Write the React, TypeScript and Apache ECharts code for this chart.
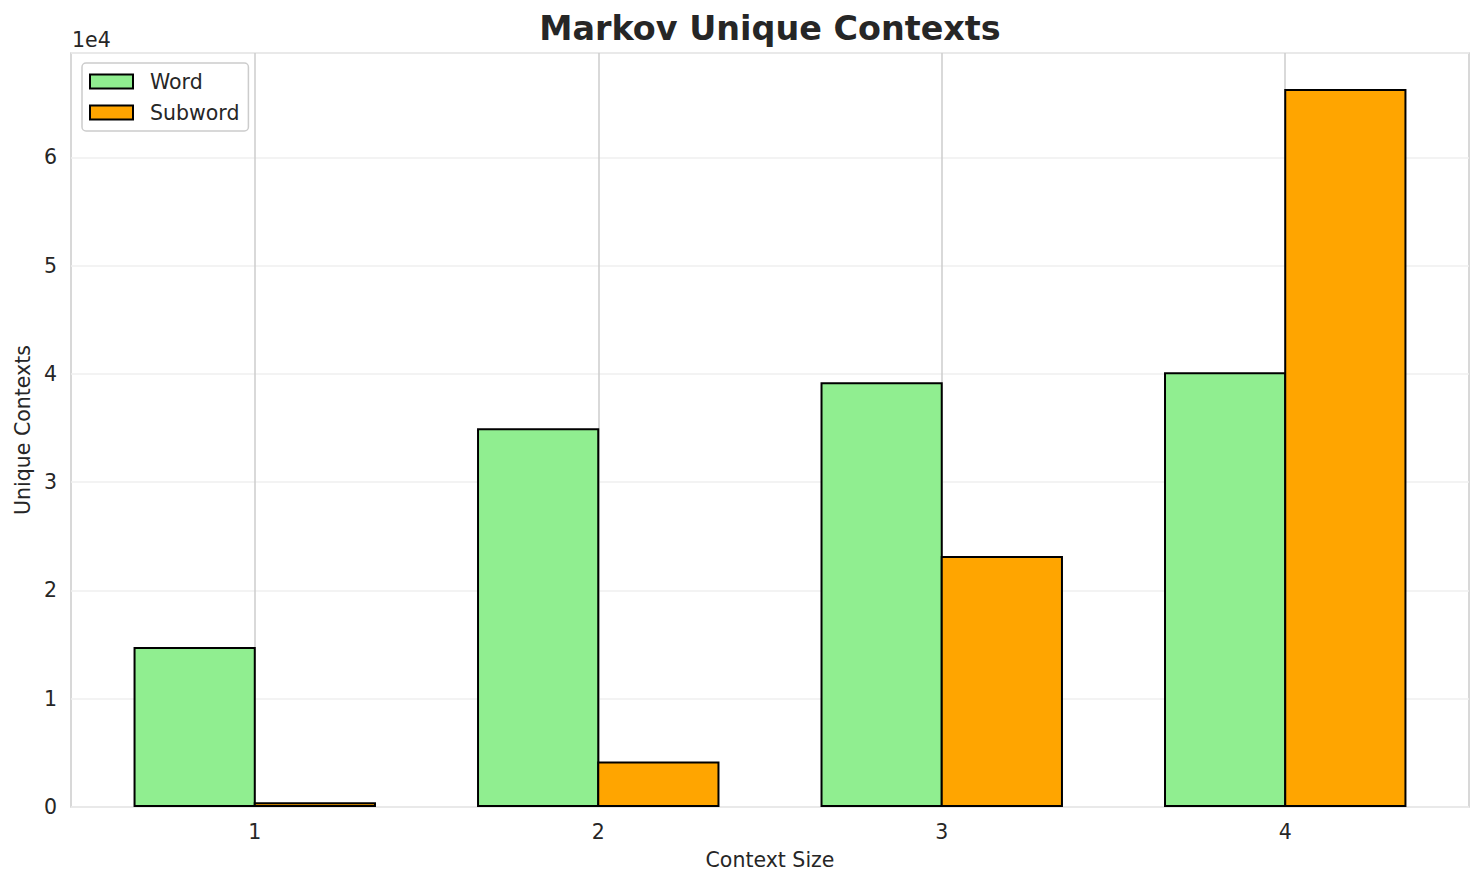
import { useEffect, useRef } from "react";
import * as echarts from "echarts";

// values
const contextSizes = [1, 2, 3, 4];
const wordContexts = [14780, 34980, 39230, 40160];
const subwordContexts = [430, 4200, 23180, 66320];

const font = "'DejaVu Sans', sans-serif";
const textColor = "#262626";
const labelSize = 20.5;

export default function App() {
  const chartRef = useRef<HTMLDivElement>(null);

  useEffect(() => {
    if (!chartRef.current) return;
    const chart = echarts.init(chartRef.current, undefined, { renderer: "svg" });

    const gridLeft = 71;
    const gridRight = 15;
    const gridTop = 53;
    const gridBottom = 78;
    const edge = 2;

    // matplotlib style: bar width 0.35, 5% margins
    const barW = 0.35;
    const lo = contextSizes[0] - barW;
    const hi = contextSizes[contextSizes.length - 1] + barW;
    const pad = (hi - lo) * 0.05;
    const xMin = lo - pad;
    const xMax = hi + pad;
    const pxPerUnit = (1484 - gridLeft - gridRight) / (xMax - xMin);
    // echarts keeps the border inside the bar, matplotlib centres it on the edge
    const barPx = barW * pxPerUnit + edge;
    const yMax = Math.max(...wordContexts, ...subwordContexts) * 1.05;

    const option: echarts.EChartsOption = {
      animation: false,
      backgroundColor: "#ffffff",
      textStyle: { fontFamily: font, color: textColor },
      graphic: [
        {
          type: "text",
          x: (gridLeft + 1484 - gridRight) / 2,
          y: 28.5,
          style: {
            text: "Markov Unique Contexts",
            fontFamily: font,
            fontSize: 33.4,
            fontWeight: "bold",
            fill: textColor,
            align: "center",
            verticalAlign: "middle",
          },
        },
        {
          type: "text",
          x: 72,
          y: 39.5,
          style: {
            text: "1e4",
            fontFamily: font,
            fontSize: labelSize,
            fill: textColor,
            align: "left",
            verticalAlign: "middle",
          },
        },
      ],
      legend: {
        data: ["Word", "Subword"],
        orient: "vertical",
        left: 82,
        top: 63,
        padding: [8, 9, 8, 7],
        backgroundColor: "rgba(255,255,255,0.8)",
        borderColor: "#cccccc",
        borderWidth: 1.5,
        borderRadius: 4,
        itemWidth: 43,
        itemHeight: 14,
        itemGap: 10,
        icon: "rect",
        textStyle: {
          fontFamily: font,
          fontSize: labelSize,
          color: textColor,
          padding: [0, 0, 0, 12],
        },
      },
      grid: {
        left: gridLeft,
        right: gridRight,
        top: gridTop,
        bottom: gridBottom,
        show: true,
        borderColor: "#cccccc",
        borderWidth: 1.5,
      },
      xAxis: {
        type: "value",
        min: xMin,
        max: xMax,
        name: "Context Size",
        nameLocation: "middle",
        nameGap: 42,
        nameTextStyle: { fontFamily: font, fontSize: labelSize, color: textColor },
        axisLine: { show: false },
        axisTick: { show: false },
        splitLine: { show: false },
        axisLabel: {
          customValues: contextSizes,
          fontFamily: font,
          fontSize: labelSize,
          color: textColor,
          margin: 14,
          formatter: (v: number) => String(Math.round(v)),
        },
      },
      yAxis: {
        type: "value",
        min: 0,
        max: yMax,
        interval: 10000,
        name: "Unique Contexts",
        nameLocation: "middle",
        nameGap: 38,
        nameTextStyle: { fontFamily: font, fontSize: labelSize, color: textColor },
        axisLine: { show: false },
        axisTick: { show: false },
        splitLine: { lineStyle: { color: "#efefef", width: 1.5 } },
        axisLabel: {
          fontFamily: font,
          fontSize: labelSize,
          color: textColor,
          margin: 14,
          showMaxLabel: false,
          formatter: (v: number) => (v % 10000 === 0 ? String(v / 10000) : ""),
        },
      },
      series: [
        {
          name: "Word",
          type: "bar",
          barWidth: barPx,
          barGap: "-100%",
          data: contextSizes.map((c, i) => [c - barW / 2, wordContexts[i]]),
          itemStyle: { color: "#90ee90", borderColor: "#000000", borderWidth: edge },
          markLine: {
            silent: true,
            z: 1,
            symbol: ["none", "none"],
            label: { show: false },
            lineStyle: { color: "#cccccc", width: 1.5, type: "solid" },
            data: contextSizes.map((c) => ({ xAxis: c })),
          },
        },
        {
          name: "Subword",
          type: "bar",
          barWidth: barPx,
          barGap: "-100%",
          data: contextSizes.map((c, i) => [c + barW / 2, subwordContexts[i]]),
          itemStyle: { color: "#ffa500", borderColor: "#000000", borderWidth: edge },
        },
      ],
    };

    chart.setOption(option);
    return () => chart.dispose();
  }, []);

  return (
    <div
      ref={chartRef}
      style={{ position: "absolute", left: 0, top: 0, width: 1484, height: 885 }}
    />
  );
}
